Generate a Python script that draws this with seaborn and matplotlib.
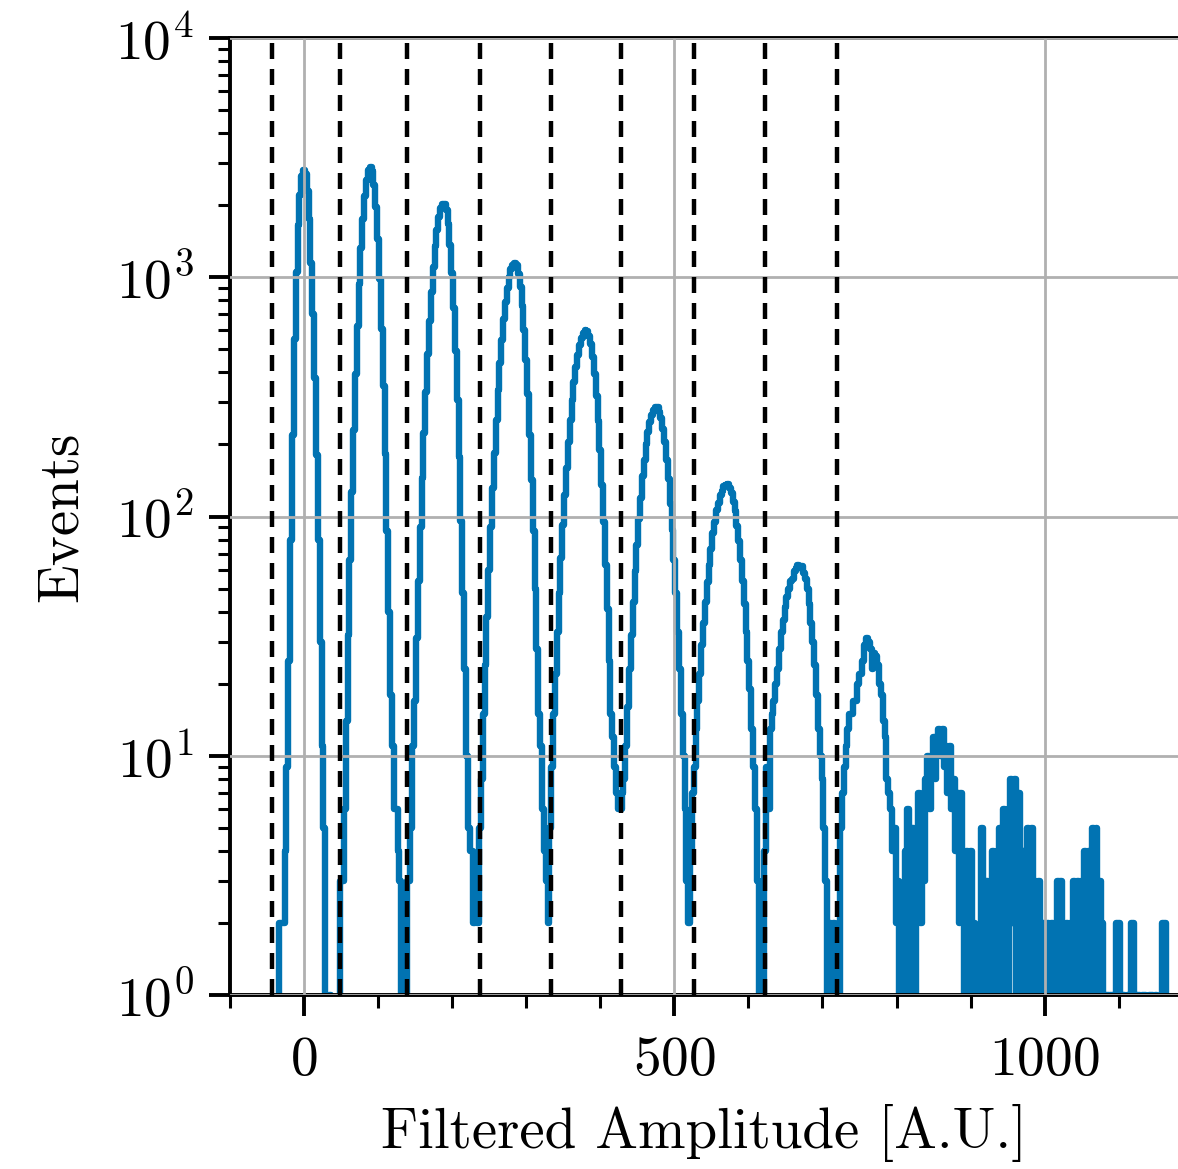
import numpy as np
import pandas as pd
import matplotlib
matplotlib.use("Agg")
import matplotlib.pyplot as plt
from matplotlib.ticker import MultipleLocator, LogLocator, NullFormatter
import seaborn as sns

# histogram bins: 2.5 A.U. wide, centred on -50 ... 1170
bin_width = 2.5
bin_centers = np.arange(-50, 1170.1, bin_width)

# events per bin (one row = 100 A.U.)
counts = [
    0, 0, 0, 0, 0, 0, 0, 2, 2, 2, 4, 9, 25, 80, 220, 550, 1050, 1650, 2200, 2650,
    2800, 2700, 2300, 1750, 1150, 700, 380, 180, 80, 30, 11, 5, 0, 0, 1, 0, 0, 0, 0, 0,
    3, 3, 6, 14, 32, 66, 127, 231, 393, 627, 940, 1330, 1760, 2190, 2560, 2810, 2900, 2775, 2440, 1960,
    1450, 980, 610, 350, 182, 87, 40, 18, 11, 6, 6, 4, 3, 0, 2, 0, 3, 3, 5, 11,
    17, 31, 54, 90, 145, 224, 333, 476, 655, 867, 1100, 1345, 1580, 1790, 1940, 2030, 2030, 1907, 1670, 1368,
    1045, 744, 494, 307, 177, 96, 48, 23, 10, 5, 4, 4, 2, 3, 2, 5, 8, 15, 24, 38,
    60, 90, 131, 185, 254, 338, 437, 548, 667, 787, 900, 1000, 1080, 1130, 1150, 1120, 1035, 910, 760, 603,
    453, 324, 220, 142, 87, 50, 28, 15, 11, 6, 4, 3, 2, 5, 9, 15, 22, 33, 48, 67,
    92, 123, 160, 204, 253, 308, 364, 420, 473, 521, 560, 586, 600, 598, 570, 524, 463, 393, 320, 251,
    189, 136, 95, 63, 41, 25, 15, 12, 9, 7, 6, 6, 7, 8, 11, 16, 23, 32, 44, 59,
    76, 98, 120, 147, 173, 201, 225, 249, 266, 280, 287, 286, 274, 258, 232, 205, 173, 143, 113, 88,
    66, 48, 33, 23, 15, 10, 6, 3, 2, 4, 7, 9, 13, 17, 22, 29, 36, 44, 53, 63,
    73, 85, 95, 106, 114, 123, 128, 134, 136, 137, 131, 125, 115, 105, 91, 79, 66, 54, 43, 33,
    25, 19, 13, 9, 6, 3, 0, 2, 0, 4, 9, 6, 13, 15, 17, 20, 23, 28, 33, 37,
    42, 46, 50, 54, 55, 59, 61, 63, 61, 62, 58, 55, 50, 43, 36, 30, 24, 18, 13, 10,
    8, 5, 3, 0, 2, 0, 2, 0, 1, 0, 5, 7, 9, 11, 13, 15, 15, 17, 17, 20,
    22, 22, 25, 29, 31, 30, 28, 23, 27, 26, 24, 20, 18, 14, 12, 8, 7, 6, 4, 5,
    2, 3, 0, 2, 0, 4, 6, 0, 3, 5, 0, 4, 7, 2, 6, 3, 8, 10, 6, 9,
    12, 8, 11, 13, 10, 13, 9, 11, 7, 11, 6, 8, 4, 7, 2, 7, 3, 0, 4, 1,
    4, 0, 2, 0, 1, 0, 5, 2, 0, 3, 1, 0, 4, 2, 0, 4, 5, 0, 6, 3,
    0, 6, 8, 2, 8, 0, 7, 3, 0, 4, 1, 5, 0, 5, 0, 3, 1, 3, 0, 2,
    0, 1, 2, 0, 2, 1, 0, 3, 1, 3, 0, 1, 2, 0, 2, 1, 3, 0, 3, 1,
    3, 0, 4, 2, 4, 0, 5, 2, 5, 0, 3, 2, 0, 1, 1, 0, 1, 1, 0, 2,
    2, 0, 1, 1, 0, 1, 0, 2, 2, 0, 1, 1, 0, 1, 1, 0, 0, 1, 1, 0,
    1, 0, 0, 0, 2, 2, 0, 0, 0,
]

# dashed separators between photo-electron peaks
cut_positions = [-43, 48, 139, 238, 333, 428, 526, 623, 719]

sns.set_theme(style="ticks")
plt.rcParams.update({
    "font.family": "serif",
    "font.serif": ["cmr10"],
    "mathtext.fontset": "cm",
    "axes.formatter.use_mathtext": True,
    "axes.unicode_minus": False,
    "axes.axisbelow": False,
    "axes.edgecolor": "black",
    "axes.linewidth": 2.8,
    "text.color": "black",
    "axes.labelcolor": "black",
    "xtick.color": "black",
    "ytick.color": "black",
})

df = pd.DataFrame({"amplitude": bin_centers, "events": counts})

fig = plt.figure(figsize=(11.78, 11.69), dpi=100)
ax = fig.add_axes([0.1952, 0.1488, 0.8048, 0.8187])

blue = sns.color_palette("colorblind")[0]
sns.histplot(data=df, x="amplitude", weights="events", binwidth=bin_width,
             binrange=(bin_centers[0] - bin_width / 2, bin_centers[-1] + bin_width / 2),
             element="step", fill=False, color=blue, linewidth=4.6, ax=ax)

for c in cut_positions:
    ax.axvline(c, color="black", linestyle=(0, (3.6, 2.25)), linewidth=3.2, zorder=3)

ax.set_yscale("log")
ax.set_xlim(-100, 1180)
ax.set_ylim(1, 1e4)

ax.xaxis.set_major_locator(MultipleLocator(500))
ax.xaxis.set_minor_locator(MultipleLocator(100))
ax.yaxis.set_major_locator(LogLocator(base=10, numticks=10))
ax.yaxis.set_minor_locator(LogLocator(base=10, subs=np.arange(2, 10), numticks=20))
ax.yaxis.set_minor_formatter(NullFormatter())

ax.grid(True, which="major", color="#b0b0b0", linewidth=2.0)
ax.tick_params(axis="both", which="major", direction="out", length=15, width=2.8,
               labelsize=40, top=False, right=False)
ax.tick_params(axis="x", which="major", pad=15)
ax.tick_params(axis="y", which="major", pad=11)
ax.tick_params(axis="both", which="minor", direction="out", length=9, width=2.2,
               top=False, right=False)
ax.spines["right"].set_visible(False)

ax.set_xlabel("Filtered Amplitude [A.U.]", fontsize=41, labelpad=13)
ax.set_ylabel("Events", fontsize=41)
ax.yaxis.set_label_coords(-0.15, 0.5)

fig.savefig("out.png", dpi=100)
